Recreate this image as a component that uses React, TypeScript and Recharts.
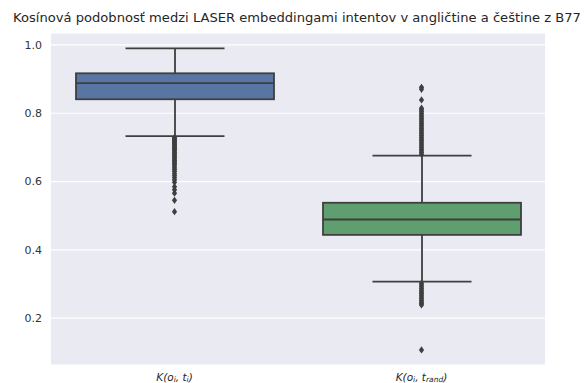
import {
  ComposedChart,
  Bar,
  Scatter,
  XAxis,
  YAxis,
  CartesianGrid,
} from "recharts";

const categories = ["match", "rand"];
const subscripts = ["i", "rand"];

const whiskerLow = [0.733, 0.307];
const q1 = [0.841, 0.444];
const median = [0.888, 0.489];
const q3 = [0.917, 0.538];
const whiskerHigh = [0.99, 0.676];

const boxColors = ["#5875a4", "#5f9e6e"];

const outliersMatch = [
  0.729, 0.726, 0.723, 0.72, 0.717, 0.714, 0.711, 0.708, 0.705, 0.702, 0.699,
  0.696, 0.693, 0.69, 0.686, 0.682, 0.678, 0.674, 0.67, 0.666, 0.662, 0.658,
  0.654, 0.65, 0.645, 0.64, 0.635, 0.63, 0.624, 0.618, 0.612, 0.605, 0.598,
  0.585, 0.576, 0.566, 0.545, 0.512,
];

const outliersRand = [
  0.876, 0.87, 0.839, 0.815, 0.81, 0.805, 0.8, 0.795, 0.79, 0.785, 0.78, 0.775,
  0.77, 0.765, 0.76, 0.755, 0.75, 0.745, 0.74, 0.735, 0.73, 0.725, 0.72, 0.715,
  0.71, 0.705, 0.7, 0.695, 0.69, 0.685, 0.68, 0.302, 0.297, 0.292, 0.287,
  0.282, 0.277, 0.272, 0.267, 0.262, 0.257, 0.252, 0.247, 0.242, 0.239, 0.107,
];

const yTicks = [0.2, 0.4, 0.6, 0.8, 1.0];

const LINE = "#3f3f3f";

const data = categories.map((name, i) => ({
  name,
  range: [whiskerLow[i], whiskerHigh[i]],
  q1: q1[i],
  median: median[i],
  q3: q3[i],
  color: boxColors[i],
}));

const outlierData = [
  ...outliersMatch.map((v) => ({ pos: 0, value: v })),
  ...outliersRand.map((v) => ({ pos: 1, value: v })),
];

function BoxShape(props: any) {
  const { x, y, width, height, payload } = props;
  const [lo, hi] = payload.range;
  const toPx = (v: number) => y + (height * (hi - v)) / (hi - lo);
  const cx = x + width / 2;
  const capHalf = width / 4;
  const top = toPx(payload.q3);
  const bottom = toPx(payload.q1);
  const med = toPx(payload.median);
  return (
    <g>
      <line x1={cx} x2={cx} y1={y} y2={y + height} stroke={LINE} strokeWidth={1.8} />
      <line x1={cx - capHalf} x2={cx + capHalf} y1={y} y2={y} stroke={LINE} strokeWidth={1.8} />
      <line
        x1={cx - capHalf}
        x2={cx + capHalf}
        y1={y + height}
        y2={y + height}
        stroke={LINE}
        strokeWidth={1.8}
      />
      <rect
        x={x}
        y={top}
        width={width}
        height={bottom - top}
        fill={payload.color}
        stroke={LINE}
        strokeWidth={1.8}
      />
      <line x1={x} x2={x + width} y1={med} y2={med} stroke={LINE} strokeWidth={1.8} />
    </g>
  );
}

function Diamond(props: any) {
  const { cx, cy } = props;
  if (cx == null || cy == null) return null;
  return (
    <polygon
      points={`${cx},${cy - 3.6} ${cx + 2.6},${cy} ${cx},${cy + 3.6} ${cx - 2.6},${cy}`}
      fill={LINE}
    />
  );
}

function CategoryTick(props: any) {
  const { x, y, index } = props;
  return (
    <text
      x={x}
      y={y + 7.5}
      textAnchor="middle"
      fontFamily="DejaVu Sans"
      fontStyle="italic"
      fontSize={10.5}
      fill="#262626"
    >
      K(o
      <tspan fontSize={7.5} dy={1.5}>
        i
      </tspan>
      <tspan dy={-1.5}>, t</tspan>
      <tspan fontSize={7.5} dy={1.5}>
        {subscripts[index]}
      </tspan>
      <tspan dy={-1.5}>)</tspan>
    </text>
  );
}

export default function App() {
  return (
    <div style={{ position: "absolute", left: 0, top: 0, width: 584, height: 383, background: "#fff" }}>
      <svg
        width={584}
        height={30}
        style={{ position: "absolute", left: 0, top: 0 }}
      >
        <text
          x={297}
          y={22}
          textAnchor="middle"
          fontFamily="DejaVu Sans"
          fontSize={13.1}
          fill="#262626"
        >
          Kosínová podobnosť medzi LASER embeddingami intentov v angličtine a češtine z B77
        </text>
      </svg>
      <div style={{ position: "absolute", left: 0, top: 0 }}>
        <ComposedChart
          width={584}
          height={383}
          data={data}
          margin={{ top: 33, right: 39, bottom: 0, left: 0 }}
        >
          <CartesianGrid
            vertical={false}
            stroke="#ffffff"
            strokeWidth={1.2}
            fill="#eaeaf2"
          />
          <XAxis
            xAxisId="cat"
            dataKey="name"
            type="category"
            height={18}
            tickLine={false}
            axisLine={false}
            tick={<CategoryTick />}
            interval={0}
          />
          <XAxis
            xAxisId="num"
            dataKey="pos"
            type="number"
            domain={[-0.5, 1.5]}
            hide
          />
          <YAxis
            type="number"
            domain={[0.063, 1.035]}
            ticks={yTicks}
            width={51}
            tickLine={false}
            axisLine={false}
            tickMargin={9}
            tickSize={0}
            tickFormatter={(v: number) => v.toFixed(1)}
            tick={{ fontFamily: "DejaVu Sans", fontSize: 11, fill: "#333" }}
            allowDataOverflow
          />
          <Bar
            xAxisId="cat"
            dataKey="range"
            barSize={198}
            shape={<BoxShape />}
            isAnimationActive={false}
          />
          <Scatter
            xAxisId="num"
            data={outlierData}
            dataKey="value"
            shape={<Diamond />}
            isAnimationActive={false}
          />
        </ComposedChart>
      </div>
    </div>
  );
}
